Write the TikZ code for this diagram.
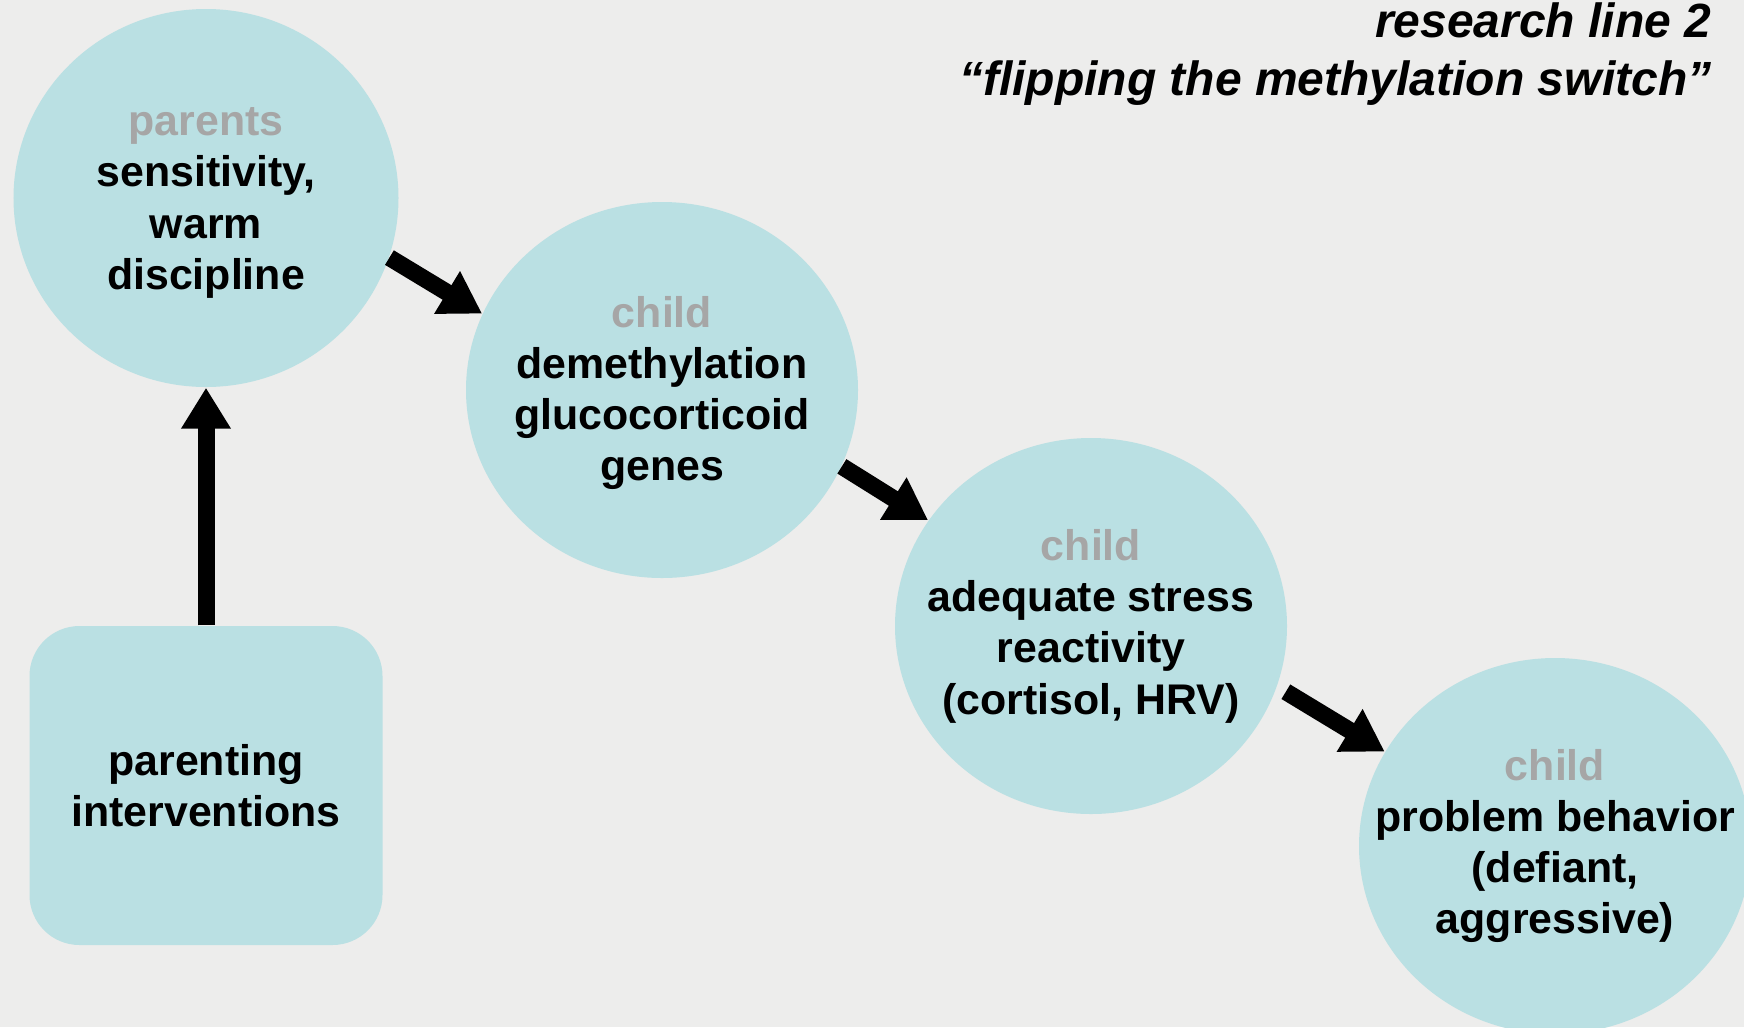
\documentclass[tikz,border=0pt]{standalone}
\usepackage{fontspec}
\setmainfont{Liberation Sans}
\usepackage{xcolor}
\usepackage{tikz}
\usetikzlibrary{positioning, arrows.meta, shapes.geometric}

\definecolor{slidebg}{HTML}{EDEDEC}
\definecolor{bubfill}{HTML}{BAE0E3}
\definecolor{whogray}{HTML}{A6A6A6}

\begin{document}
\begin{tikzpicture}[
  node distance=2cm, on grid,
  bub/.style={
    ellipse, fill=bubfill, minimum width=3.92cm, minimum height=3.76cm,
    inner sep=0pt
  },
  prog/.style={
    rectangle, rounded corners=0.5cm, fill=bubfill,
    minimum width=3.53cm, minimum height=3.19cm, inner sep=0pt
  },
  txt/.style={
    font=\fontsize{12.2}{14.6}\selectfont\bfseries, align=center,
    text=black, inner sep=0pt
  },
  heading/.style={
    font=\fontsize{13.66}{16.5}\selectfont\bfseries\itshape, align=right,
    inner sep=0pt
  },
  arr/.style={-{Triangle[length=0.41cm,width=0.47cm]}, line width=0.17cm},
]
\useasboundingbox (0,0) rectangle (17.44,-10.27);
\clip (0,0) rectangle (17.44,-10.27);
\fill[slidebg] (0,0) rectangle (17.44,-10.27);

% Title
\node[heading, anchor=north east] (title) at (17.12,-0.02) {
  research line 2\\
  ``flipping the methylation switch''
};

% Bubbles
\node[bub, minimum width=3.85cm, minimum height=3.78cm] (parents) at (2.06,-1.98) {};
\node[bub, below right=1.92 and 4.56 of parents] (meth) {};
\node[bub, below right=2.36 and 4.29 of meth] (stress) {};
\node[bub, below right=2.20 and 4.64 of stress] (behav) {};

% Intervention box
\node[prog, below=5.875 of parents] (interv) {};

% Texts
\node[txt] (parentstxt) at ([yshift=-0.05cm]parents) {
  {\color{whogray}parents}\\
  sensitivity,\\
  warm\\
  discipline
};
\node[txt] (methtxt) at ([yshift=-0.03cm]meth) {
  {\color{whogray}child}\\
  demethylation\\
  glucocorticoid\\
  genes
};
\node[txt] (stresstxt) at (stress) {
  {\color{whogray}child}\\
  adequate stress\\
  reactivity\\
  (cortisol, HRV)
};
\node[txt] (behavtxt) at (behav) {
  {\color{whogray}child}\\
  problem behavior\\
  (defiant,\\
  aggressive)
};
\node[txt] (intervtxt) at (interv) {
  parenting\\
  interventions
};

% Arrows
\draw[arr] (interv.north) -- (parents.south);
\draw[arr] (parents.-18) -- (meth.157);
\draw[arr] (meth.-23.5) -- (stress.147);
\draw[arr, shorten <=0.1cm] (stress.-18) -- (behav.151);

\end{tikzpicture}
\end{document}
